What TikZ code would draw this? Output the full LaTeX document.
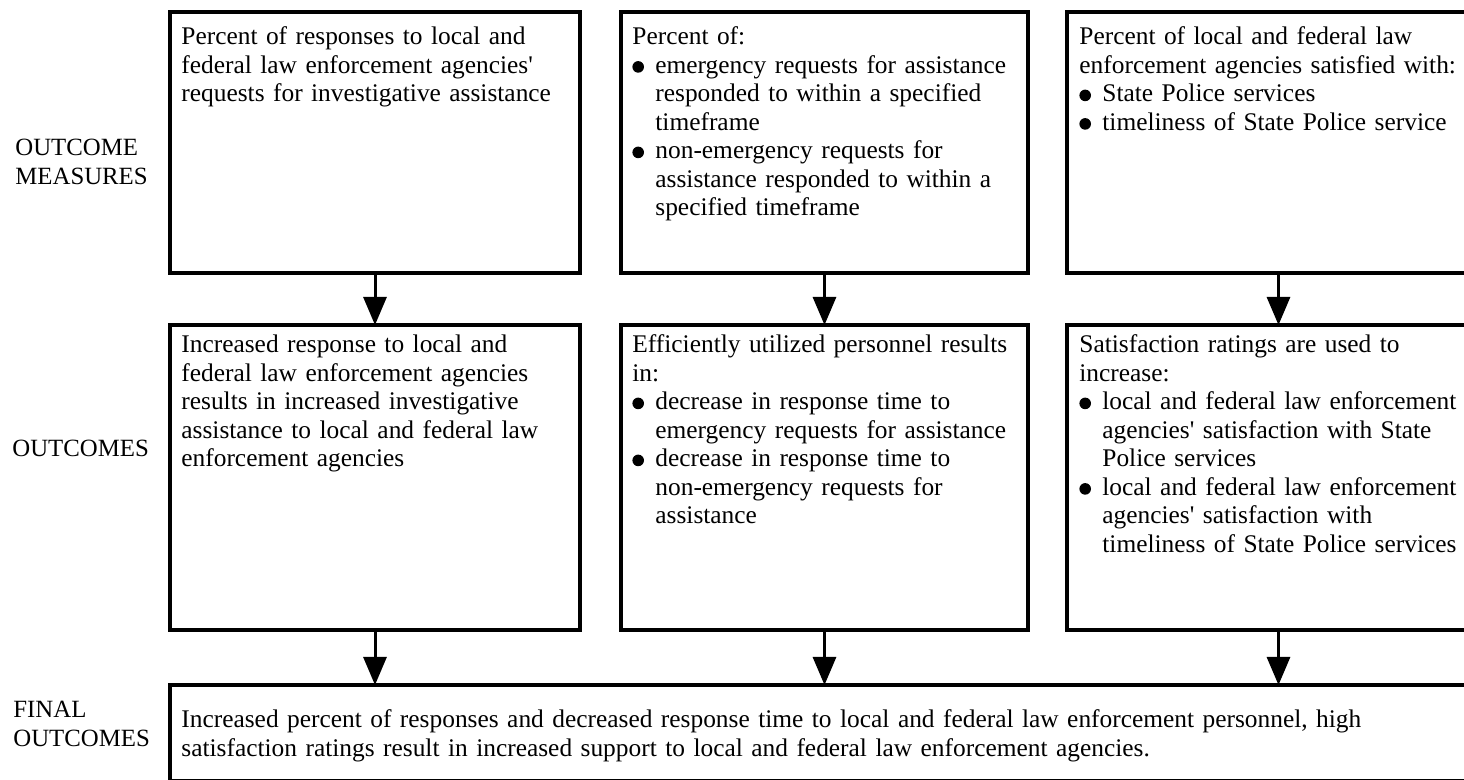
\documentclass[tikz,border=0pt]{standalone}
\usepackage{fontspec}
\setmainfont{Liberation Serif}
\usetikzlibrary{arrows.meta}

\newcommand{\bull}{\makebox[11.5pt][l]{\tikz[baseline=-0.4pt]\fill (2.9pt,2.9pt) circle (2.9pt);}}
\newcommand{\cont}{\hspace*{11.5pt}}
\newcommand{\aq}{\textquotesingle}

\tikzset{
  box/.style={draw, line width=1.6pt, anchor=north west, inner sep=0pt, outer sep=0pt},
  txt/.style={anchor=base west, align=left, text width=210pt, inner sep=0pt,
    font=\fontsize{12.7}{14.25}\selectfont},
  lab/.style={anchor=base west, align=left, text width=80pt, inner sep=0pt,
    font=\fontsize{12.4}{14.5}\selectfont},
  arr/.style={line width=1.5pt, -{Triangle[length=14pt,width=11.5pt]}}
}

\begin{document}
\begin{tikzpicture}[x=0.5pt,y=-0.5pt]
          \useasboundingbox (0,0) rectangle (1464,780);
          \clip (0,0) rectangle (1464,780);
          % row labels
          \node[lab] (labmsr) at (15,156) {OUTCOME\\MEASURES};
          \node[lab] (labout) at (12,457) {OUTCOMES};
          \node[lab] (labfin) at (13,718) {FINAL\\OUTCOMES};
          % boxes
          \node[box, minimum width=205pt, minimum height=130.5pt] (msr1) at (170,12) {};
          \node[box, minimum width=203.5pt, minimum height=130.5pt] (msr2) at (621,12) {};
          \node[box, minimum width=211.5pt, minimum height=130.5pt] (msr3) at (1067,12) {};
          \node[box, minimum width=205pt, minimum height=152.5pt] (out1) at (170,325) {};
          \node[box, minimum width=203.5pt, minimum height=152.5pt] (out2) at (621,325) {};
          \node[box, minimum width=211.5pt, minimum height=152.5pt] (out3) at (1067,325) {};
          \node[box, minimum width=660pt, minimum height=48pt] (fin) at (170,685) {};
          % texts
          \node[txt] (tmsr1) at (181,45) {Percent of responses to local and\\
            federal law enforcement agencies\aq\\
            requests for investigative assistance};
          \node[txt] (tmsr2) at (632,45) {Percent of:\\
            \bull emergency requests for assistance\\
            \cont responded to within a specified\\
            \cont timeframe\\
            \bull non-emergency requests for\\
            \cont assistance responded to within a\\
            \cont specified timeframe};
          \node[txt] (tmsr3) at (1079,45) {Percent of local and federal law\\
            enforcement agencies satisfied with:\\
            \bull State Police services\\
            \bull timeliness of State Police service};
          \node[txt] (tout1) at (181,353) {Increased response to local and\\
            federal law enforcement agencies\\
            results in increased investigative\\
            assistance to local and federal law\\
            enforcement agencies};
          \node[txt] (tout2) at (632,353) {Efficiently utilized personnel results\\
            in:\\
            \bull decrease in response time to\\
            \cont emergency requests for assistance\\
            \bull decrease in response time to\\
            \cont non-emergency requests for\\
            \cont assistance};
          \node[txt] (tout3) at (1079,353) {Satisfaction ratings are used to\\
            increase:\\
            \bull local and federal law enforcement\\
            \cont agencies\aq{} satisfaction with State\\
            \cont Police services\\
            \bull local and federal law enforcement\\
            \cont agencies\aq{} satisfaction with\\
            \cont timeliness of State Police services};
          \node[txt, text width=640pt] (tfin) at (181,728) {Increased percent of responses and decreased response time to local and federal law enforcement personnel, high\\
            satisfaction ratings result in increased support to local and federal law enforcement agencies.};
          % arrows
          \foreach \c in {1,2,3}{
            \draw[arr] (msr\c.south) -- (out\c.north);
            \draw[arr] (out\c.south) -- (out\c.south |- fin.north);
          }
        \end{tikzpicture}
\end{document}
